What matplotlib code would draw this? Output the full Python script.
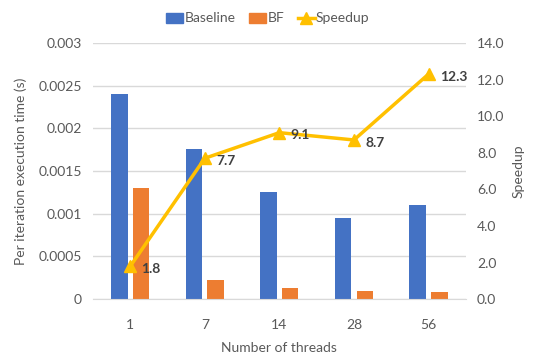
import matplotlib
matplotlib.use("Agg")
import matplotlib.pyplot as plt
import numpy as np
from matplotlib.lines import Line2D
from matplotlib.patches import Patch

threads = ["1", "7", "14", "28", "56"]
baseline = [0.0024, 0.00176, 0.00126, 0.00095, 0.0011]
bf = [0.0013, 0.00022, 0.00013, 0.0001, 0.00008]
speedup = [1.8, 7.7, 9.1, 8.7, 12.3]
left_ticks = [0, 0.0005, 0.001, 0.0015, 0.002, 0.0025, 0.003]
left_labels = ["0", "0.0005", "0.001", "0.0015", "0.002", "0.0025", "0.003"]
right_ticks = [0, 2, 4, 6, 8, 10, 12, 14]

plt.rcParams['font.family'] = ['Lato', 'DejaVu Sans']
txt = '#595959'
blue = '#4472C4'
orange = '#ED7D31'
yellow = '#FFC000'

fig = plt.figure(figsize=(5.36, 3.54), dpi=100)
ax = fig.add_axes([0.1735, 0.155, 0.6955, 0.7235])
x = np.arange(len(threads))
w = 0.22
ax.bar(x - 0.145, baseline, w, color=blue, zorder=2)
ax.bar(x + 0.145, bf, w, color=orange, zorder=2)
ax.set_xlim(-0.5, len(threads) - 0.5)
ax.set_ylim(0, 0.003)
ax.set_yticks(left_ticks)
ax.set_yticklabels(left_labels)
ax.set_xticks(x)
ax.set_xticklabels(threads)
ax.grid(axis='y', color='#D9D9D9', linewidth=1, zorder=0)
ax.set_axisbelow(True)
for s in ['top', 'left', 'right']:
    ax.spines[s].set_visible(False)
ax.spines['bottom'].set_color('#D9D9D9')
ax.tick_params(axis='both', length=0, colors=txt, labelsize=10)
ax.tick_params(axis='x', pad=14)
ax.tick_params(axis='y', pad=8)
ax.set_xlabel("Number of threads", color=txt, fontsize=10, labelpad=8)
ax.set_ylabel("Per iteration execution time (s)", color=txt, fontsize=10, labelpad=8)

ax2 = ax.twinx()
ax2.plot(x, speedup, color=yellow, linewidth=2.5, marker='^', markersize=8, zorder=3)
for xi, v in zip(x, speedup):
    ax2.annotate(f"{v}", (xi, v), xytext=(8, -2), textcoords='offset points',
                 ha='left', va='center', fontsize=10, fontweight='bold', color='#404040')
ax2.set_ylim(0, 14)
ax2.set_yticks(right_ticks)
ax2.set_yticklabels([f"{t:.1f}" for t in right_ticks])
for s in ['top', 'left', 'right', 'bottom']:
    ax2.spines[s].set_visible(False)
ax2.tick_params(axis='both', length=0, colors=txt, labelsize=10)
ax2.tick_params(axis='y', pad=8)
ax2.set_ylabel("Speedup", color=txt, fontsize=10, labelpad=6)

handles = [Patch(color=blue, label='Baseline'), Patch(color=orange, label='BF'),
           Line2D([0], [0], color=yellow, linewidth=2.5, marker='^', markersize=8, label='Speedup')]
fig.legend(handles=handles, loc='upper center', bbox_to_anchor=(0.5, 1.0), ncol=3, frameon=False,
           fontsize=10, labelcolor=txt, handlelength=1.2, handletextpad=0.1, columnspacing=1.0)

fig.savefig("out.png", dpi=100)
